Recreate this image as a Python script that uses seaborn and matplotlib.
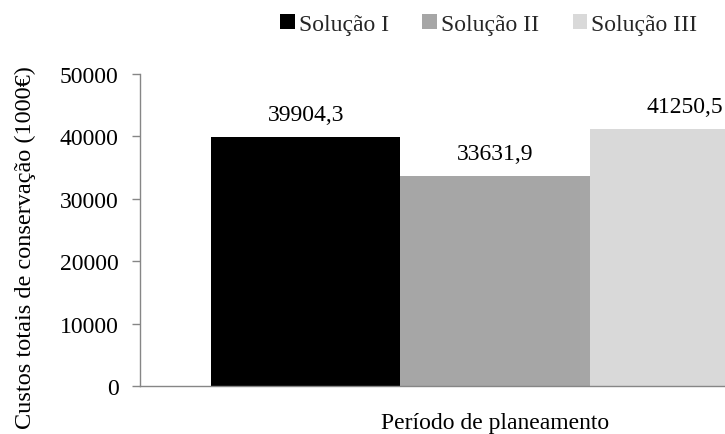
import matplotlib
matplotlib.use("Agg")
import matplotlib.pyplot as plt
import seaborn as sns
import pandas as pd
from matplotlib.patches import Patch

periods = ["Período de planeamento"]
solutions = ["Solução I", "Solução II", "Solução III"]
values = [39904.3, 33631.9, 41250.5]
value_labels = ["39904,3", "33631,9", "41250,5"]
colors = ["#000000", "#a6a6a6", "#d9d9d9"]
yticks = [0, 10000, 20000, 30000, 40000, 50000]
ylabel = "Custos totais de conservação (1000€)"

sns.set_theme(style="white")
plt.rcParams["font.family"] = ["Liberation Serif", "DejaVu Serif"]

FS = 17

df = pd.DataFrame({"period": periods * 3, "solution": solutions, "value": values})

fig = plt.figure(figsize=(7.25, 4.35), dpi=100)
ax = fig.add_axes([140 / 725, 48 / 435, 710 / 725, 312 / 435])

sns.barplot(data=df, x="period", y="value", hue="solution", palette=colors,
            width=0.8, ax=ax, legend=False, saturation=1, linewidth=0)

for cont, lab in zip(ax.containers, value_labels):
    ax.bar_label(cont, labels=[lab], padding=8.5, fontsize=FS, color="#000000")

ax.set_ylim(0, 50000)
ax.set_xlim(-0.5, 0.5)
ax.set_yticks(yticks)
ax.set_yticklabels([str(v) for v in yticks], fontsize=FS, color="#000000")
ax.tick_params(axis="y", length=5.5, color="#868686", width=1, pad=10, left=True)
ax.tick_params(axis="x", length=0, labelsize=FS, pad=19, labelcolor="#000000")
ax.set_xlabel("")
ax.set_ylabel("")
for s in ["top", "right"]:
    ax.spines[s].set_visible(False)
for s in ["left", "bottom"]:
    ax.spines[s].set_color("#868686")
    ax.spines[s].set_linewidth(1)

fig.text(25 / 725, 1 - 248 / 435, ylabel, rotation=90, ha="center", va="center",
         fontsize=17.5, color="#000000")

handles = [Patch(facecolor=c, edgecolor="none") for c in colors]
fig.legend(handles, solutions, loc="center", bbox_to_anchor=(489 / 725, 1 - 25 / 435),
           ncol=3, frameon=False, fontsize=FS, handlelength=0.6, handleheight=0.6,
           handletextpad=0.2, columnspacing=1.4, borderpad=0, borderaxespad=0)

fig.savefig("out.png", dpi=100)
